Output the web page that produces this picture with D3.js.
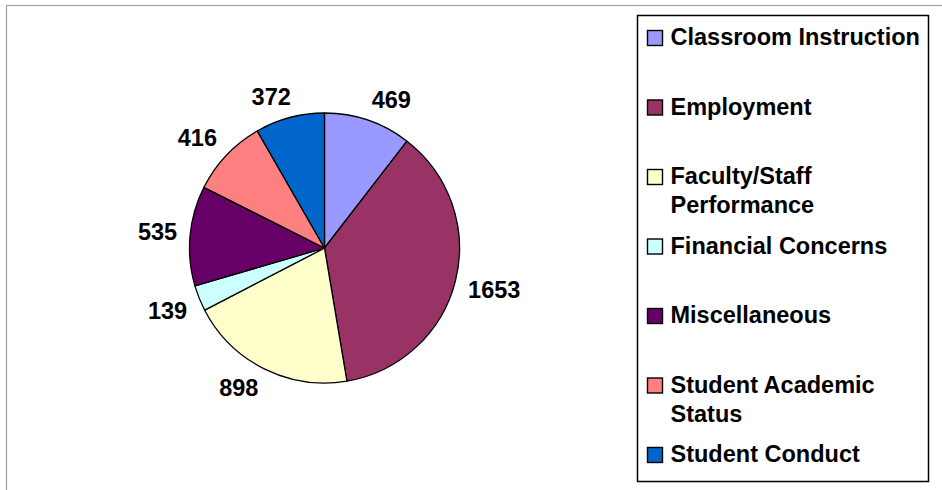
<!DOCTYPE html>
<html>
<head>
<meta charset="utf-8">
<script src="https://cdn.jsdelivr.net/npm/d3@7"></script>
<style>
  body { margin: 0; background: #fff; }
  text { font-family: "Liberation Sans", Arial, sans-serif; font-weight: bold; fill: #000; }
</style>
</head>
<body>
<div id="chart"></div>
<script>
// Data
const categories = ['Classroom Instruction', 'Employment', 'Faculty/Staff Performance',
  'Financial Concerns', 'Miscellaneous', 'Student Academic Status', 'Student Conduct'];
const legendLines = [['Classroom Instruction'], ['Employment'], ['Faculty/Staff', 'Performance'],
  ['Financial Concerns'], ['Miscellaneous'], ['Student Academic', 'Status'], ['Student Conduct']];
const counts = [469, 1653, 898, 139, 535, 416, 372];
const colors = ['#9999FF', '#993366', '#FFFFCC', '#CCFFFF', '#660066', '#FF8080', '#0066CC'];

// Dimensions
const width = 942;
const height = 490;
const center = {x: 324.5, y: 248};
const radius = 135;
const fontSize = 23.5;
const capHeight = 16;

const svg = d3.select('#chart')
  .append('svg')
    .attr('width', width)
    .attr('height', height)

// Chart area border
svg.append('rect')
  .attr('x', 6.5)
  .attr('y', 5.5)
  .attr('width', width)
  .attr('height', height)
  .attr('fill', 'none')
  .attr('stroke', '#a0a0a0')
  .attr('stroke-width', 1.2)

// Pie
const pie = d3.pie().sort(null).value((d) => d)
const arcs = pie(counts);
const arc = d3.arc().innerRadius(0).outerRadius(radius);
const g = svg.append('g')
  .attr('transform', `translate(${center.x}, ${center.y})`)
g.selectAll('path')
  .data(arcs)
  .join('path')
    .attr('d', arc)
    .attr('fill', (d, i) => colors[i])
    .attr('stroke', '#000')
    .attr('stroke-width', 1.3)
    .attr('stroke-linejoin', 'round')

// Data labels, placed outside the slice along its mid angle
const labelRadius = 148;
const clamp = (v) => Math.max(-1, Math.min(1, v));
const labels = g.selectAll('text.label')
  .data(arcs)
  .join('text')
    .attr('class', 'label')
    .attr('text-anchor', 'middle')
    .style('font-size', fontSize + 'px')
    .text((d) => d.value)
labels.each(function (d) {
  const a = (d.startAngle + d.endAngle) / 2;
  const dx = Math.sin(a);
  const dy = -Math.cos(a);
  const w = this.getComputedTextLength();
  const cx = dx * labelRadius + w / 2 * clamp(3 * dx);
  const cy = dy * labelRadius + capHeight / 2 * clamp(3 * dy);
  d3.select(this)
    .attr('x', cx)
    .attr('y', cy + capHeight / 2)
})

// Legend
const legend = svg.append('g');
legend.append('rect')
  .attr('x', 637.5)
  .attr('y', 15.5)
  .attr('width', 291)
  .attr('height', 466)
  .attr('fill', '#fff')
  .attr('stroke', '#000')
  .attr('stroke-width', 1.5)
const rowY = d3.scaleLinear()
  .domain([0, categories.length - 1])
  .range([45, 462])
const rows = legend.selectAll('g.row')
  .data(categories)
  .join('g')
    .attr('class', 'row')
    .attr('transform', (d, i) => `translate(0, ${rowY(i)})`)
rows.append('rect')
  .attr('x', 647.5)
  .attr('y', -14.5)
  .attr('width', 15)
  .attr('height', 15)
  .attr('fill', (d, i) => colors[i])
  .attr('stroke', '#000')
  .attr('stroke-width', 1.4)
rows.each(function (d, i) {
  legendLines[i].forEach((line, j) => {
    d3.select(this).append('text')
      .attr('x', 670.5)
      .attr('y', j * 29)
      .style('font-size', fontSize + 'px')
      .text(line)
  })
})
</script>
</body>
</html>
